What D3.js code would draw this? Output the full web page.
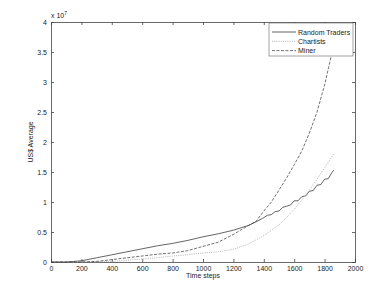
<!DOCTYPE html>
<html>
<head>
<meta charset="utf-8">
<script src="https://cdn.jsdelivr.net/npm/d3@7"></script>
<style>
  body { margin: 0; background: #fff; }
  text { font-family: "Liberation Sans", Arial, sans-serif; fill: #222; }
</style>
</head>
<body>
<div id="chart"></div>
<script>
// values in units of 1e7 US$
const rtSteps = [0, 100, 200, 300, 400, 500, 600, 700, 800, 900, 1000, 1100, 1200, 1300, 1350,
  1400, 1425, 1450, 1475, 1500, 1525, 1550, 1575, 1600, 1625, 1650, 1675, 1700, 1725, 1750, 1775, 1800, 1825, 1845, 1860];
const rtValues = [0, 0, 0.02, 0.07, 0.12, 0.17, 0.22, 0.27, 0.31, 0.36, 0.42, 0.47, 0.53, 0.61, 0.67,
  0.74, 0.78, 0.79, 0.84, 0.85, 0.91, 0.93, 0.95, 1.02, 1.02, 1.09, 1.1, 1.18, 1.19, 1.28, 1.29, 1.38, 1.39, 1.48, 1.53];

const chSteps = [0, 200, 400, 500, 600, 700, 800, 900, 1000, 1100, 1200, 1300, 1400, 1500, 1550,
  1600, 1650, 1700, 1750, 1800, 1860];
const chValues = [0, 0, 0.01, 0.03, 0.05, 0.07, 0.1, 0.12, 0.15, 0.17, 0.21, 0.3, 0.44, 0.62, 0.74,
  0.88, 1.03, 1.2, 1.38, 1.57, 1.8];

const miSteps = [0, 100, 200, 300, 400, 500, 600, 700, 800, 900, 1000, 1100, 1200, 1300, 1350,
  1400, 1450, 1500, 1550, 1600, 1650, 1700, 1750, 1800, 1845];
const miValues = [0, 0, 0, 0.01, 0.04, 0.07, 0.1, 0.13, 0.15, 0.19, 0.26, 0.33, 0.46, 0.61, 0.68,
  0.85, 1.0, 1.2, 1.4, 1.62, 1.85, 2.15, 2.5, 2.95, 3.45];

const xTicks = [0, 200, 400, 600, 800, 1000, 1200, 1400, 1600, 1800, 2000];
const yTicks = [0, 0.5, 1, 1.5, 2, 2.5, 3, 3.5, 4];
const seriesNames = ["Random Traders", "Chartists", "Miner"];

const W = 392, H = 294;
const m = { left: 51, right: 37, top: 22, bottom: 32 };

const svg = d3.select("#chart").append("svg")
  .attr("width", W).attr("height", H);

const x = d3.scaleLinear().domain([0, 2000]).range([m.left, W - m.right]);
const y = d3.scaleLinear().domain([0, 4]).range([H - m.bottom, m.top]);

// axes with inward ticks on all four sides
const fmt = d => String(d);
svg.append("g").attr("transform", `translate(0,${H - m.bottom})`)
  .call(d3.axisBottom(x).tickValues(xTicks).tickSize(-3).tickPadding(4).tickFormat(fmt));
svg.append("g").attr("transform", `translate(0,${m.top})`)
  .call(d3.axisTop(x).tickValues(xTicks).tickSize(-3).tickFormat(""));
svg.append("g").attr("transform", `translate(${m.left},0)`)
  .call(d3.axisLeft(y).tickValues(yTicks).tickSize(-3).tickPadding(4).tickFormat(fmt));
svg.append("g").attr("transform", `translate(${W - m.right},0)`)
  .call(d3.axisRight(y).tickValues(yTicks).tickSize(-3).tickFormat(""));

svg.selectAll(".domain").attr("stroke", "#444").attr("stroke-width", 0.8);
svg.selectAll(".tick line").attr("stroke", "#444").attr("stroke-width", 0.8);
svg.selectAll(".tick text").attr("font-size", 7).attr("fill", "#222")
  .attr("font-family", "Liberation Sans, Arial, sans-serif");

// lines
const line = d3.line().x(d => x(d[0])).y(d => y(d[1]));
const series = [
  { name: seriesNames[0], pts: d3.zip(rtSteps, rtValues), color: "#222", dash: null, w: 0.7 },
  { name: seriesNames[1], pts: d3.zip(chSteps, chValues), color: "#aaa", dash: "1,1.2", w: 0.9 },
  { name: seriesNames[2], pts: d3.zip(miSteps, miValues), color: "#333", dash: "3,1.5", w: 0.7 }
];
svg.append("g").selectAll("path").data(series).join("path")
  .attr("d", d => line(d.pts))
  .attr("fill", "none")
  .attr("stroke", d => d.color)
  .attr("stroke-width", d => d.w)
  .attr("stroke-dasharray", d => d.dash);

// exponent label
const ex = svg.append("text").attr("x", m.left).attr("y", m.top - 4).attr("font-size", 7);
ex.append("tspan").text("x 10");
ex.append("tspan").attr("dy", -3).attr("font-size", 5).text("7");

// axis labels
svg.append("text").attr("x", (m.left + W - m.right) / 2).attr("y", H - 16)
  .attr("text-anchor", "middle").attr("font-size", 7).text("Time steps");
svg.append("text")
  .attr("transform", `translate(33,${(m.top + H - m.bottom) / 2}) rotate(-90)`)
  .attr("text-anchor", "middle").attr("font-size", 7).text("US$ Average");

// legend
const lg = svg.append("g").attr("transform", "translate(269,23)");
lg.append("rect").attr("width", 84).attr("height", 33)
  .attr("fill", "#fff").attr("stroke", "#666").attr("stroke-width", 0.6);
const items = lg.selectAll("g").data(series).join("g")
  .attr("transform", (d, i) => `translate(0,${9 + i * 9.3})`);
items.append("line").attr("x1", 3).attr("x2", 27)
  .attr("stroke", d => d.color).attr("stroke-width", d => d.w)
  .attr("stroke-dasharray", d => d.dash);
items.append("text").attr("x", 29).attr("y", 2.5).attr("font-size", 7).text(d => d.name);
</script>
</body>
</html>
